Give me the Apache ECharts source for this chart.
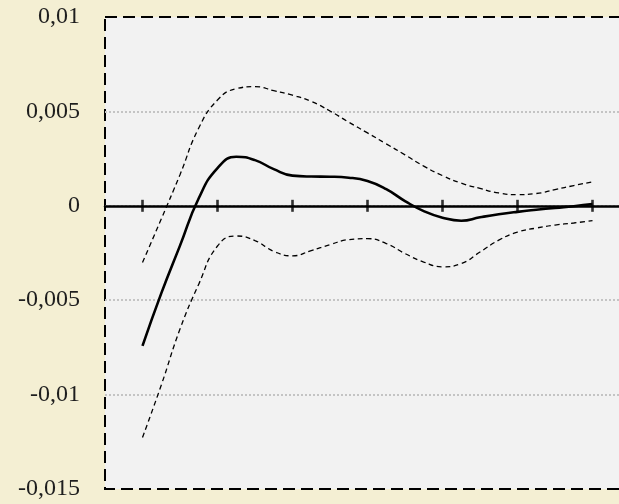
<!DOCTYPE html>
<html>
<head>
<meta charset="utf-8">
<script src="https://cdn.jsdelivr.net/npm/echarts@6/dist/echarts.min.js"></script>
<style>
  html, body { margin: 0; padding: 0; }
  body { background: #f4efd3; }
  #chart { width: 619px; height: 504px; }
</style>
</head>
<body>
<div id="chart"></div>
<script>
// Horizon in quarter periods; whole periods 1..7 carry the tick marks
const horizon = ['0.5', '0.75', '1', '1.25', '1.5', '1.75', '2', '2.25', '2.5', '2.75',
  '3', '3.25', '3.5', '3.75', '4', '4.25', '4.5', '4.75', '5', '5.25',
  '5.5', '5.75', '6', '6.25', '6.5', '6.75', '7', '7.25', '7.5'];
const periods = ['1', '2', '3', '4', '5', '6', '7'];

// Impulse response (periods 1..7, quarter steps)
const response = [-0.00742, -0.00464, -0.00211, 0.00040, 0.00200, 0.00260, 0.00242, 0.00194,
  0.00160, 0.00155, 0.00154, 0.00149, 0.00131, 0.00088, 0.00025, -0.00028,
  -0.00063, -0.00079, -0.00061, -0.00045, -0.00032, -0.00021, -0.00011, -0.00002, 0.00009];

// Upper confidence band
const upperBand = [-0.00300, -0.00070, 0.00165, 0.00412, 0.00560, 0.00620, 0.00631, 0.00610,
  0.00586, 0.00553, 0.00502, 0.00443, 0.00386, 0.00328, 0.00270, 0.00210,
  0.00160, 0.00120, 0.00092, 0.00068, 0.00059, 0.00065, 0.00086, 0.00107, 0.00127];

// Lower confidence band
const lowerBand = [-0.01227, -0.00950, -0.00653, -0.00415, -0.00213, -0.00160, -0.00184, -0.00241,
  -0.00265, -0.00237, -0.00206, -0.00179, -0.00174, -0.00200, -0.00253, -0.00298,
  -0.00323, -0.00306, -0.00245, -0.00182, -0.00139, -0.00118, -0.00102, -0.00091, -0.00079];

// Y tick range
const yMin = -0.015, yMax = 0.01, yStep = 0.005;

const edgePad = ['-', '-'];
const pad = arr => edgePad.concat(arr, edgePad);

const serif = '"Liberation Serif", "DejaVu Serif", serif';
const fmt = v => String(Number(v.toFixed(4))).replace('.', ',');

const chart = echarts.init(document.getElementById('chart'), null, { renderer: 'canvas' });
chart.setOption({
  backgroundColor: '#f4efd3',
  animation: false,
  grid: {
    left: 105, top: 17, width: 525, bottom: 15,
    outerBoundsMode: 'none',
    containLabel: false,
    show: true,
    backgroundColor: '#f2f2f2',
    borderColor: '#000',
    borderWidth: 2,
    borderType: [12, 6]
  },
  xAxis: {
    type: 'category', data: horizon, boundaryGap: false,
    axisLine: { onZero: true, lineStyle: { color: '#000', width: 2.5 } },
    axisTick: { show: false },
    axisLabel: { show: false },
    splitLine: { show: false }
  },
  yAxis: {
    type: 'value', min: yMin, max: yMax, interval: yStep,
    axisLine: { show: false },
    axisTick: { show: false },
    axisLabel: {
      formatter: fmt, margin: 25,
      fontFamily: serif, fontSize: 24, color: '#1e1e1e'
    },
    splitLine: {
      show: true, showMinLine: false, showMaxLine: false,
      lineStyle: { color: '#c4c4c4', width: 2, type: [2, 2] }
    }
  },
  series: [
    {
      type: 'line', data: pad(upperBand), smooth: 0.5, symbol: 'none',
      lineStyle: { color: '#000', width: 1.3, type: [5, 3.5] }
    },
    {
      type: 'line', data: pad(lowerBand), smooth: 0.5, symbol: 'none',
      lineStyle: { color: '#000', width: 1.3, type: [5, 3.5] }
    },
    {
      type: 'line', data: pad(response), smooth: 0.5, symbol: 'none',
      lineStyle: { color: '#000', width: 2.6 }
    },
    {
      // cross ticks on the zero axis at each whole period
      type: 'scatter', data: periods.map(p => [p, 0]),
      symbol: 'rect', symbolSize: [2.6, 12],
      itemStyle: { color: '#000' }, silent: true, z: 3
    }
  ]
});
</script>
</body>
</html>
